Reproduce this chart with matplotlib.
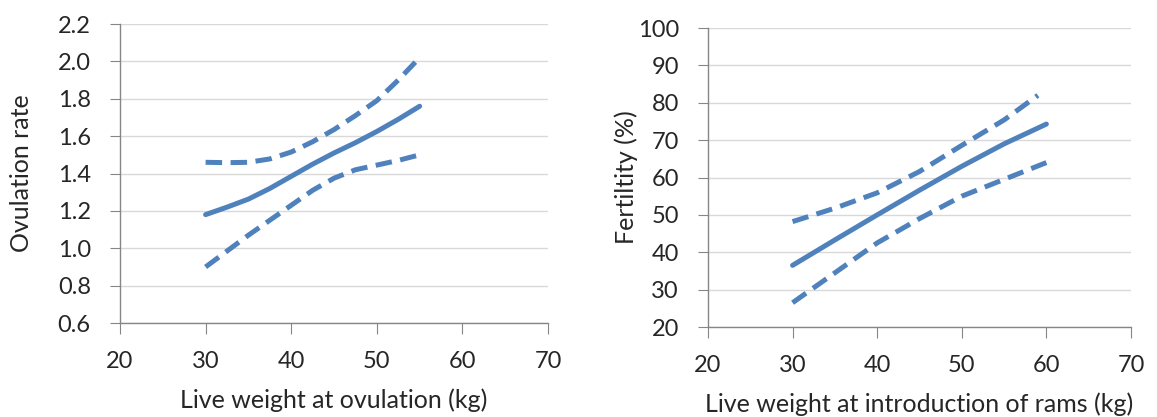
import numpy as np
import matplotlib.pyplot as plt

# left panel: ovulation rate vs live weight
ov_x = [30, 32.5, 35, 37.5, 40, 42.5, 45, 47.5, 50, 52.5, 55]
ov_mid = [1.18, 1.22, 1.263, 1.32, 1.385, 1.45, 1.51, 1.565, 1.625, 1.69, 1.76]
ov_upper = [1.46, 1.458, 1.46, 1.478, 1.515, 1.57, 1.635, 1.71, 1.79, 1.90, 2.02]
ov_lower = [0.90, 0.985, 1.07, 1.15, 1.23, 1.31, 1.375, 1.42, 1.445, 1.47, 1.50]

# right panel: fertility vs live weight at ram introduction
fe_x = [30, 35, 40, 45, 50, 55, 60]
fe_mid = [36.5, 43.3, 50.0, 56.6, 63.0, 69.0, 74.3]
fe_upper_x = [30, 35, 40, 45, 50, 55, 59]
fe_upper = [48.2, 51.8, 55.9, 61.6, 68.6, 75.4, 82.0]
fe_lower = [26.5, 34.5, 42.5, 49.0, 55.0, 59.5, 64.0]

blue = '#4F81BD'
axis_col = '#868686'
grid_col = '#D9D9D9'
txt = '#262626'
plt.rcParams['font.family'] = ['Lato', 'DejaVu Sans']

fig = plt.figure(figsize=(11.57, 4.17), dpi=100)
ax1 = fig.add_axes([0.1037, 0.2254, 0.370, 0.717])
ax2 = fig.add_axes([0.6119, 0.2158, 0.3656, 0.717])


def style(ax, yticks, fmt):
    ax.set_xlim(20, 70)
    ax.set_xticks(range(20, 71, 10))
    ax.set_ylim(yticks[0], yticks[-1])
    ax.set_yticks(yticks)
    ax.set_yticklabels([fmt.format(v) for v in yticks])
    ax.grid(axis='y', color=grid_col, lw=1)
    ax.set_axisbelow(True)
    for s in ['top', 'right']:
        ax.spines[s].set_visible(False)
    for s in ['left', 'bottom']:
        ax.spines[s].set_color(axis_col)
        ax.spines[s].set_linewidth(1)
    ax.tick_params(axis='x', length=8, color=axis_col, labelsize=17, pad=12, labelcolor=txt)
    ax.tick_params(axis='y', length=7, color=axis_col, labelsize=17, pad=14, labelcolor=txt)


def draw(ax, x, mid, ux, up, lo):
    ax.plot(x, mid, color=blue, lw=3.6, solid_capstyle='round', solid_joinstyle='round')
    ax.plot(ux, up, color=blue, lw=3.6, dashes=(3.3, 1.7), dash_capstyle='butt')
    ax.plot(x, lo, color=blue, lw=3.6, dashes=(3.3, 1.7), dash_capstyle='butt')


style(ax1, np.round(np.arange(0.6, 2.21, 0.2), 1), '{:.1f}')
draw(ax1, ov_x, ov_mid, ov_x, ov_upper, ov_lower)
ax1.set_xlabel('Live weight at ovulation (kg)', fontsize=18, labelpad=12, color=txt)
ax1.set_ylabel('Ovulation rate', fontsize=18, labelpad=18, color=txt)

style(ax2, list(range(20, 101, 10)), '{:d}')
draw(ax2, fe_x, fe_mid, fe_upper_x, fe_upper, fe_lower)
ax2.set_xlabel('Live weight at introduction of rams (kg)', fontsize=18, labelpad=12, color=txt)
ax2.set_ylabel('Fertiltity (%)', fontsize=18, labelpad=0, color=txt)

fig.savefig('out.png', dpi=100)
